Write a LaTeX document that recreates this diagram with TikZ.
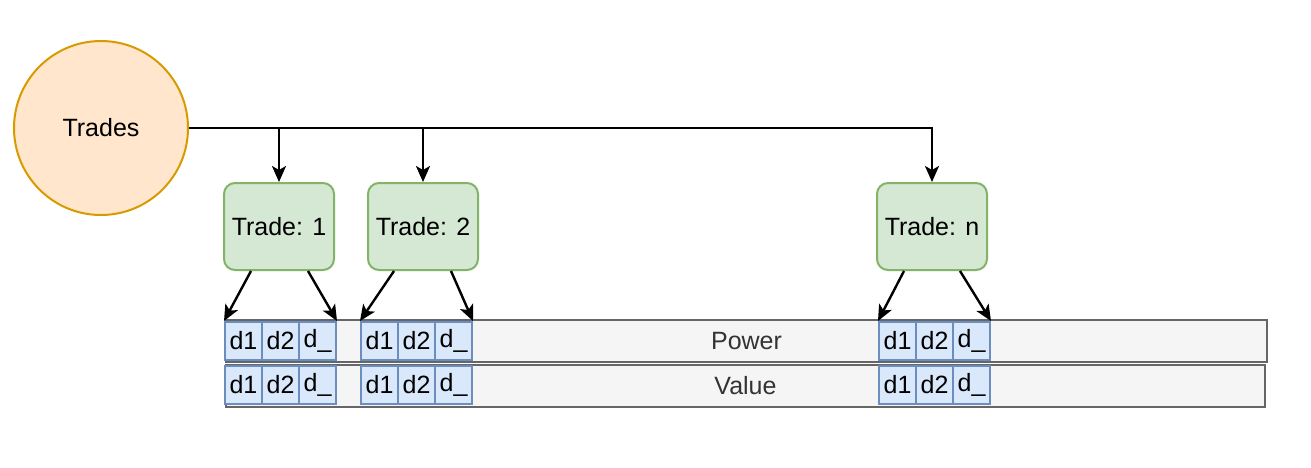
\documentclass[tikz,border=0pt]{standalone}
\usepackage{fontspec}
\setmainfont{Liberation Sans}
\usetikzlibrary{arrows.meta}
\definecolor{circfill}{HTML}{FFE6CC}
\definecolor{circdraw}{HTML}{D79B00}
\definecolor{tfill}{HTML}{D5E8D4}
\definecolor{tdraw}{HTML}{82B366}
\definecolor{cfill}{HTML}{DAE8FC}
\definecolor{cdraw}{HTML}{6C8EBF}
\definecolor{bfill}{HTML}{F5F5F5}
\definecolor{bdraw}{HTML}{666666}
\definecolor{btext}{HTML}{333333}
\tikzset{
  every node/.style={font=\fontsize{25}{30}\selectfont},
  tradesnode/.style={circle, draw=circdraw, fill=circfill, line width=2pt, minimum size=174pt, inner sep=0pt},
  tradebox/.style={rectangle, rounded corners=11pt, draw=tdraw, fill=tfill, line width=2pt, minimum width=110pt, minimum height=87pt, inner sep=0pt},
  barbox/.style={rectangle, draw=bdraw, fill=bfill, line width=2pt, inner sep=0pt, text=btext},
  cell/.style={rectangle, draw=cdraw, fill=cfill, line width=2pt, minimum width=37pt, minimum height=38pt, inner sep=0pt},
  arr/.style={draw=black, line width=2.4pt, -{Stealth[length=16pt,width=14pt,inset=4pt]}},
}
\begin{document}
\begin{tikzpicture}[x=1pt,y=-1pt]
\useasboundingbox (0,0) rectangle (1311,467);
% Trades
\node[tradesnode] (trades) at (101,128) {Trades};
% trade boxes
\node[tradebox] (t1) at (279,226.5) {Trade: 1};
\node[tradebox] (t2) at (423,226.5) {Trade: 2};
\node[tradebox] (tn) at (932,226.5) {Trade: n};
% bars
\node[barbox, minimum width=1041pt, minimum height=42pt] (power) at (746.5,341) {Power};
\node[barbox, minimum width=1039pt, minimum height=42pt] (value) at (745.5,385.5) {Value};
% cells
\foreach \g/\x in {a/243.5,b/379.5,n/897.5}{
  \node[cell] (p\g1) at (\x,341) {d1};
  \node[cell] (p\g2) at (\x+37,341) {d2};
  \node[cell] (p\g3) at (\x+74,341) {d\_};
  \node[cell] (v\g1) at (\x,385) {d1};
  \node[cell] (v\g2) at (\x+37,385) {d2};
  \node[cell] (v\g3) at (\x+74,385) {d\_};
}
% connectors from Trades
\draw[arr] (trades.east) -| (t1.north);
\draw[arr] (trades.east) -| (t2.north);
\draw[arr] (trades.east) -| (tn.north);
% diagonal arrows
\coordinate (t1l) at ([xshift=28pt]t1.south west);
\coordinate (t1r) at ([xshift=-27pt]t1.south east);
\coordinate (t2l) at ([xshift=27pt]t2.south west);
\coordinate (t2r) at ([xshift=-28pt]t2.south east);
\coordinate (tnl) at ([xshift=28pt]tn.south west);
\coordinate (tnr) at ([xshift=-28pt]tn.south east);
\draw[arr] (t1l) -- (pa1.north west);
\draw[arr] (t1r) -- (pa3.north east);
\draw[arr] (t2l) -- (pb1.north west);
\draw[arr] (t2r) -- (pb3.north east);
\draw[arr] (tnl) -- (pn1.north west);
\draw[arr] (tnr) -- (pn3.north east);
\end{tikzpicture}
\end{document}
